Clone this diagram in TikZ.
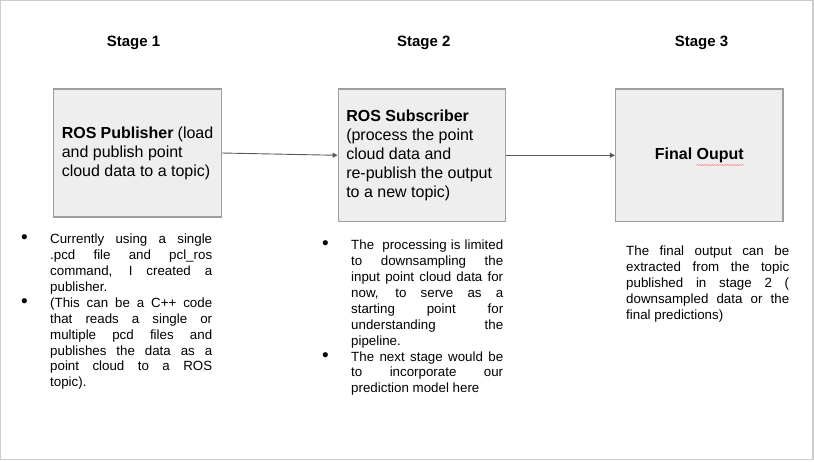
\documentclass[tikz,border=0pt]{standalone}
\usepackage{fontspec}
\setmainfont{Liberation Sans}
\usepackage{xcolor}
\usetikzlibrary{arrows.meta, decorations.pathmorphing}

\definecolor{boxfill}{HTML}{EEEEEE}
\definecolor{boxline}{HTML}{9E9E9E}
\definecolor{arrowgray}{HTML}{595959}
\definecolor{framegray}{HTML}{CCCCCC}

\newcommand{\notefont}{\fontsize{13.33}{15.9}\selectfont}
\newcommand{\fontspaces}{\spaceskip=0pt\xspaceskip=0pt\relax}
\newcommand{\jl}[1]{\makebox[\hsize][s]{\fontspaces#1}\\} % one justified line
\newcommand{\bul}{\leavevmode\llap{\makebox[29pt][l]{\fontsize{19}{15.9}\selectfont\textbullet}}}

\begin{document}
\begin{tikzpicture}[x=1pt, y=-1pt,
    stagebox/.style={rectangle, draw=boxline, line width=1.3pt, fill=boxfill, inner xsep=8pt, inner ysep=0pt, align=left, text width=151.5pt, font=\fontsize{16}{19}\selectfont, execute at begin node=\fontspaces},
    stagehead/.style={anchor=base, font=\fontsize{15}{18}\selectfont\bfseries},
    note/.style={anchor=north west, inner sep=0pt, align=left, font=\notefont, execute at begin node=\fontspaces\strut},
    link/.style={draw=arrowgray, line width=0.9pt, -{Triangle[length=5pt, width=5pt]}}]
    \useasboundingbox (0,0) rectangle (814,461);
    \draw[framegray, line width=1.2pt] (0.6,0.6) rectangle (813,459.4); % outer frame

    \node[stagehead] (st1) at (133.5,46) {Stage 1};
    \node[stagehead] (st2) at (423.8,46) {Stage 2};
    \node[stagehead] (st3) at (701.5,46) {Stage 3};

    \node[stagebox, minimum width=167.5pt, minimum height=128pt] (pub) at (137.5,153) {\textbf{ROS Publisher} (load\\ and publish point\\ cloud data to a topic)};
    \node[stagebox, minimum width=167.5pt, minimum height=132.5pt] (sub) at (422,155.3) {\textbf{ROS Subscriber}\\ (process the point\\ cloud data and\\ re-publish the output\\ to a new topic)};
    \node[stagebox, minimum width=167.3pt, minimum height=132.5pt, align=center] (out) at (699.3,155.3) {\mbox{\textbf{Final Ouput}}};
    \draw[red!55, line width=0.5pt, decorate, decoration={snake, amplitude=0.6pt, segment length=2.5pt}] (696.7,165) -- (743.3,165); % spell check mark

    \draw[link] (pub.east) -- (sub.west);
    \draw[link] (sub.east) -- (out.west);

    \node[note, text width=162pt] (note1) at (50,232.4) {\bul\jl{Currently using a single}
        \jl{.pcd file and pcl\_ros}
        \jl{command, I created a}
        publisher.\\
        \bul\jl{(This can be a C++ code}
        \jl{that reads a single or}
        \jl{multiple pcd files and}
        \jl{publishes the data as a}
        \jl{point cloud to a ROS}
        topic).};
    \node[note, text width=152pt] (note2) at (351,238.4) {\bul\jl{The\ \ processing is limited}
        \jl{to downsampling the}
        \jl{input point cloud data for}
        \jl{now, to serve as a}
        \jl{starting point for}
        \jl{understanding the}
        pipeline.\\
        \bul\jl{The next stage would be}
        \jl{to incorporate our}
        prediction model here};
    \node[note, text width=163pt] (note3) at (626,244.4) {\jl{The final output can be}
        \jl{extracted from the topic}
        \jl{published in stage 2 (}
        \jl{downsampled data or the}
        final predictions)};
\end{tikzpicture}
\end{document}
